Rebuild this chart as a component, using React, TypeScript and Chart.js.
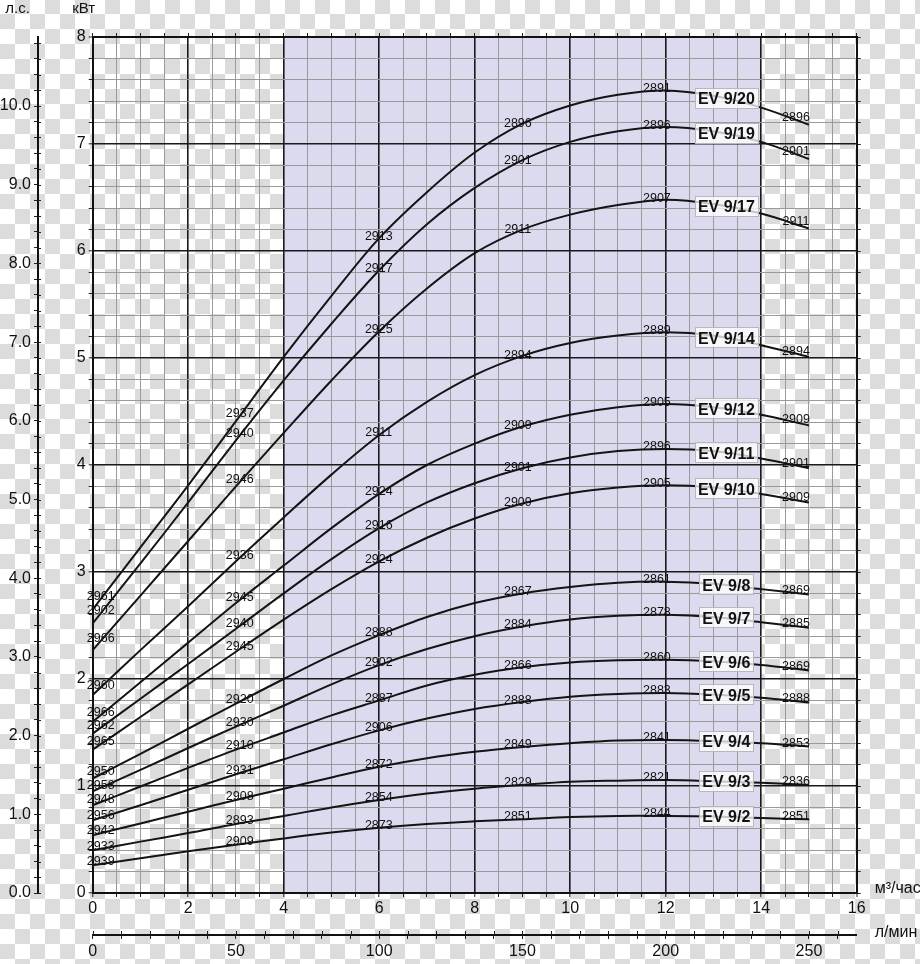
import React, { useEffect, useRef } from 'react';
import { Chart, registerables } from 'chart.js';

Chart.register(...registerables);

// ---------- data ----------
const flows = [0, 1, 2, 3, 4, 5, 6, 7, 8, 9, 10, 11, 12, 13, 14, 15]; // м³/час

const ev20 = [2.65, 3.23, 3.81, 4.41, 5.01, 5.58, 6.12, 6.55, 6.92, 7.19, 7.36, 7.46, 7.5, 7.45, 7.34, 7.18];
const ev19 = [2.52, 3.08, 3.65, 4.23, 4.79, 5.32, 5.82, 6.25, 6.59, 6.85, 7.02, 7.12, 7.16, 7.12, 7.02, 6.86];
const ev17 = [2.27, 2.78, 3.29, 3.8, 4.3, 4.79, 5.25, 5.65, 5.98, 6.2, 6.34, 6.43, 6.48, 6.44, 6.35, 6.21];
const ev14 = [1.85, 2.27, 2.68, 3.1, 3.51, 3.91, 4.28, 4.59, 4.84, 5.02, 5.14, 5.21, 5.24, 5.21, 5.12, 5.01];
const ev12 = [1.6, 1.97, 2.34, 2.71, 3.06, 3.41, 3.73, 4.0, 4.2, 4.36, 4.47, 4.54, 4.57, 4.54, 4.47, 4.37];
const ev11 = [1.49, 1.815, 2.14, 2.47, 2.8, 3.12, 3.41, 3.65, 3.83, 3.97, 4.07, 4.13, 4.15, 4.13, 4.06, 3.97];
const ev10 = [1.34, 1.645, 1.95, 2.255, 2.555, 2.84, 3.1, 3.32, 3.5, 3.64, 3.735, 3.79, 3.81, 3.79, 3.73, 3.65];
const ev8 = [1.07, 1.3, 1.535, 1.77, 2.0, 2.22, 2.41, 2.58, 2.71, 2.8, 2.86, 2.9, 2.91, 2.89, 2.84, 2.79];
const ev7 = [0.95, 1.15, 1.355, 1.555, 1.75, 1.95, 2.13, 2.28, 2.4, 2.49, 2.555, 2.59, 2.6, 2.58, 2.53, 2.48];
const ev6 = [0.82, 0.995, 1.17, 1.34, 1.5, 1.66, 1.8, 1.94, 2.04, 2.11, 2.155, 2.175, 2.18, 2.165, 2.13, 2.08];
const ev5 = [0.68, 0.82, 0.965, 1.11, 1.25, 1.39, 1.52, 1.63, 1.72, 1.785, 1.835, 1.86, 1.87, 1.855, 1.825, 1.78];
const ev4 = [0.54, 0.65, 0.76, 0.87, 0.975, 1.08, 1.18, 1.26, 1.32, 1.365, 1.4, 1.425, 1.43, 1.42, 1.4, 1.37];
const ev3 = [0.4, 0.48, 0.56, 0.645, 0.72, 0.8, 0.87, 0.93, 0.975, 1.01, 1.04, 1.05, 1.055, 1.045, 1.03, 1.01];
const ev2 = [0.26, 0.325, 0.39, 0.45, 0.51, 0.565, 0.61, 0.645, 0.67, 0.69, 0.71, 0.72, 0.72, 0.715, 0.7, 0.69];

const curveNames = ['EV 9/20', 'EV 9/19', 'EV 9/17', 'EV 9/14', 'EV 9/12', 'EV 9/11', 'EV 9/10', 'EV 9/8', 'EV 9/7', 'EV 9/6', 'EV 9/5', 'EV 9/4', 'EV 9/3', 'EV 9/2'];
const series = [ev20, ev19, ev17, ev14, ev12, ev11, ev10, ev8, ev7, ev6, ev5, ev4, ev3, ev2];

// rpm read at these flows
const rpmFlows = [0, 3, 6, 9, 12, 15];
const rpm20 = [2961, 2937, 2913, 2896, 2891, 2896];
const rpm19 = [2902, 2940, 2917, 2901, 2896, 2901];
const rpm17 = [2966, 2946, 2925, 2911, 2907, 2911];
const rpm14 = [2960, 2936, 2911, 2894, 2889, 2894];
const rpm12 = [2966, 2945, 2924, 2909, 2905, 2909];
const rpm11 = [2962, 2940, 2916, 2901, 2896, 2901];
const rpm10 = [2965, 2945, 2924, 2909, 2905, 2909];
const rpm8 = [2950, 2920, 2888, 2867, 2861, 2869];
const rpm7 = [2958, 2930, 2902, 2884, 2878, 2885];
const rpm6 = [2948, 2910, 2887, 2866, 2860, 2869];
const rpm5 = [2956, 2931, 2906, 2888, 2883, 2888];
const rpm4 = [2942, 2908, 2872, 2849, 2841, 2853];
const rpm3 = [2933, 2893, 2854, 2829, 2821, 2836];
const rpm2 = [2939, 2909, 2873, 2851, 2844, 2851];
const rpms = [rpm20, rpm19, rpm17, rpm14, rpm12, rpm11, rpm10, rpm8, rpm7, rpm6, rpm5, rpm4, rpm3, rpm2];

const shadedRange = [4, 14]; // м³/час
const flowMax = 16;
const kwMax = 8;
const KW_PER_HP = 0.7355;
const LPM_PER_M3H = 1000 / 60;
const evLabelFlow = 13.27;

const flowLabelStep = 2;
const lpmLabelStep = 50;

// ---------- helpers ----------
const FONT = "'Liberation Sans', Arial, Helvetica, sans-serif";
const isInt = (v: number) => Math.abs(v - Math.round(v)) < 1e-6;
const W = 920;
const H = 964;
const CHECK = 15;

function valueAt(vals: number[], f: number) {
  const n = flows.length;
  if (f <= flows[0]) return vals[0] + ((vals[1] - vals[0]) * (f - flows[0])) / (flows[1] - flows[0]);
  for (let i = 0; i < n - 1; i++) {
    if (f <= flows[i + 1]) {
      const t = (f - flows[i]) / (flows[i + 1] - flows[i]);
      return vals[i] + t * (vals[i + 1] - vals[i]);
    }
  }
  return vals[n - 1];
}

const shadePlugin = {
  id: 'shade',
  beforeDraw(chart: any) {
    const ctx = chart.ctx;
    const chartArea = chart.chartArea;
    const scales = chart.scales;
    ctx.save();
    ctx.globalAlpha = 1;
    ctx.globalCompositeOperation = 'source-over';
    ctx.fillStyle = 'rgb(255,255,255)';
    ctx.fillRect(0, 0, W, H);
    ctx.fillStyle = 'rgb(220,220,220)';
    ctx.beginPath();
    for (let j = 0; j <= Math.ceil(H / CHECK) + 1; j++) {
      for (let i = 0; i <= Math.ceil(W / CHECK); i++) {
        if ((i + j) % 2 === 1) ctx.rect(i * CHECK, j * CHECK - 1, CHECK, CHECK);
      }
    }
    ctx.fill();
    const x0 = scales.x.getPixelForValue(shadedRange[0]);
    const x1 = scales.x.getPixelForValue(shadedRange[1]);
    ctx.fillStyle = '#dcdaef';
    ctx.fillRect(x0, chartArea.top, x1 - x0, chartArea.bottom - chartArea.top);
    ctx.restore();
  },
};

const labelPlugin = {
  id: 'curveLabels',
  afterDatasetsDraw(chart: any) {
    const { ctx, scales } = chart;
    const x = scales.x;
    const y = scales.y;
    ctx.save();
    ctx.font = `12.5px ${FONT}`;
    ctx.fillStyle = '#111';
    ctx.textAlign = 'center';
    ctx.textBaseline = 'alphabetic';
    series.forEach((vals, si) => {
      rpmFlows.forEach((f, j) => {
        const px = x.getPixelForValue(f) + 8 - 1.4 * f;
        const fv = x.getValueForPixel(px);
        const py = y.getPixelForValue(valueAt(vals, fv));
        ctx.fillText(String(rpms[si][j]), px, py + 1);
      });
    });
    ctx.font = `bold 16px ${FONT}`;
    series.forEach((vals, si) => {
      const px = x.getPixelForValue(evLabelFlow);
      const py = y.getPixelForValue(valueAt(vals, evLabelFlow)) - 1;
      const w = Math.round(ctx.measureText(curveNames[si]).width + 6);
      const h = 20;
      const bx = Math.round(px - w / 2);
      const by = Math.round(py - h / 2);
      ctx.fillStyle = 'rgba(255,255,255,0.75)';
      ctx.fillRect(bx, by, w, h);
      ctx.strokeStyle = '#b8b8b8';
      ctx.lineWidth = 1;
      ctx.strokeRect(bx + 0.5, by + 0.5, w, h);
      ctx.fillStyle = '#111';
      ctx.textBaseline = 'middle';
      ctx.fillText(curveNames[si], px, py + 2);
    });
    ctx.restore();
  },
};

const decoPlugin = {
  id: 'deco',
  afterDraw(chart: any) {
    const { ctx, chartArea, scales } = chart;
    ctx.save();
    ctx.strokeStyle = '#222';
    ctx.lineWidth = 1;
    ctx.beginPath();
    const hp = scales.hp;
    hp.ticks.forEach((t: any) => {
      const py = Math.round(hp.getPixelForValue(t.value)) + 0.5;
      ctx.moveTo(hp.right, py);
      ctx.lineTo(hp.right + 3, py);
    });
    const lm = scales.lmin;
    lm.ticks.forEach((t: any) => {
      const px = Math.round(lm.getPixelForValue(t.value)) + 0.5;
      ctx.moveTo(px, lm.top - 4);
      ctx.lineTo(px, lm.top);
    });
    ctx.stroke();

    ctx.fillStyle = '#111';
    ctx.textBaseline = 'middle';
    ctx.textAlign = 'center';
    ctx.font = `15px ${FONT}`;
    ctx.fillText('л.с.', hp.right - 20.5, chartArea.top - 28);
    ctx.fillText('кВт', scales.y.right - 9, chartArea.top - 28);
    ctx.textAlign = 'left';
    ctx.font = `16px ${FONT}`;
    ctx.fillText('м³/час', chartArea.right + 18, scales.x.top - 4);
    ctx.fillText('л/мин', chartArea.right + 18, lm.top - 2);
    ctx.restore();
  },
};

export default function App() {
  const ref = useRef<HTMLCanvasElement | null>(null);

  useEffect(() => {
    if (!ref.current) return;
    const tickFont = { family: FONT, size: 16 };
    const gridColor = (major: boolean) => (major ? '#1a1a1a' : '#9a9a9a');

    const chart = new Chart(ref.current, {
      type: 'line',
      data: {
        datasets: series.map((vals, i) => ({
          label: curveNames[i],
          data: flows.map((f, k) => ({ x: f, y: vals[k] })),
          borderColor: '#141414',
          borderWidth: 2,
          pointRadius: 0,
          fill: false,
          tension: 0.35,
          xAxisID: 'x',
          yAxisID: 'y',
        })),
      },
      options: {
        responsive: false,
        animation: false,
        events: [],
        layout: { padding: { top: 33, right: 59.3, bottom: 0, left: 0 } },
        plugins: { legend: { display: false }, tooltip: { enabled: false } },
        scales: {
          x: {
            type: 'linear',
            axis: 'x',
            position: 'bottom',
            weight: 0,
            min: 0,
            max: flowMax,
            ticks: {
              stepSize: 0.5,
              autoSkip: false,
              maxTicksLimit: 1000,
              maxRotation: 0,
              minRotation: 0,
              padding: 2,
              font: tickFont,
              color: '#111',
              callback: (v: any) => (isInt(v / flowLabelStep) ? String(v) : ''),
            },
            grid: {
              color: (c: any) => gridColor(c.tick && isInt(c.tick.value / 2)),
              lineWidth: (c: any) => {
                const v = c.tick ? c.tick.value : 0;
                if (v >= flowMax - 1e-6) return 2;
                return isInt(v / 2) ? 1.6 : 1;
              },
              tickLength: 4,
              tickColor: '#222',
              tickWidth: 1,
            },
            border: { display: true, color: '#111', width: 2 },
            afterFit: (s: any) => {
              s.height = 42;
            },
          },
          lmin: {
            type: 'linear',
            axis: 'x',
            position: 'bottom',
            weight: 1,
            min: 0,
            max: flowMax * LPM_PER_M3H,
            ticks: {
              stepSize: 10,
              includeBounds: false,
              autoSkip: false,
              maxTicksLimit: 1000,
              maxRotation: 0,
              minRotation: 0,
              padding: 3,
              font: tickFont,
              color: '#111',
              callback: (v: any) => (isInt(v / lpmLabelStep) ? String(Math.round(v)) : ''),
            },
            grid: { drawOnChartArea: false, tickLength: 4, color: '#222', lineWidth: 1, tickWidth: 1 },
            border: { display: true, color: '#111', width: 2 },
            afterFit: (s: any) => {
              s.height = 29;
            },
          },
          xTop: {
            type: 'linear',
            axis: 'x',
            position: 'top',
            min: 0,
            max: flowMax,
            ticks: { stepSize: 0.5, display: false, maxTicksLimit: 1000, autoSkip: false },
            grid: { drawOnChartArea: false, tickLength: 4, color: '#222', lineWidth: 1, tickWidth: 1 },
            border: { display: true, color: '#111', width: 2 },
            afterFit: (s: any) => {
              s.height = 4;
            },
          },
          y: {
            type: 'linear',
            axis: 'y',
            position: 'left',
            weight: 0,
            min: 0,
            max: kwMax,
            ticks: {
              stepSize: 0.2,
              autoSkip: false,
              maxTicksLimit: 1000,
              padding: 3,
              font: tickFont,
              color: '#111',
              callback: (v: any) => (isInt(v) ? String(Math.round(v)) : ''),
            },
            grid: {
              color: (c: any) => gridColor(c.tick && isInt(c.tick.value)),
              lineWidth: (c: any) => {
                const v = c.tick ? c.tick.value : 0;
                if (v >= kwMax - 1e-6) return 2;
                return isInt(v) ? 1.6 : 1;
              },
              tickLength: 4,
              tickColor: '#222',
              tickWidth: 1,
            },
            border: { display: true, color: '#111', width: 2 },
            afterFit: (s: any) => {
              s.width = 54.7;
            },
          },
          hp: {
            type: 'linear',
            axis: 'y',
            position: 'left',
            weight: 1,
            min: 0,
            max: kwMax / KW_PER_HP,
            ticks: {
              stepSize: 0.2,
              includeBounds: false,
              autoSkip: false,
              maxTicksLimit: 1000,
              padding: 3,
              font: tickFont,
              color: '#111',
              callback: (v: any) => (isInt(v) ? Number(v).toFixed(1) : ''),
            },
            grid: { drawOnChartArea: false, tickLength: 4, color: '#222', lineWidth: 1, tickWidth: 1 },
            border: { display: true, color: '#111', width: 2 },
            afterFit: (s: any) => {
              s.width = 38;
            },
          },
          yRight: {
            type: 'linear',
            axis: 'y',
            position: 'right',
            min: 0,
            max: kwMax,
            ticks: { stepSize: 0.2, display: false, maxTicksLimit: 1000, autoSkip: false },
            grid: { drawOnChartArea: false, tickLength: 4, color: '#222', lineWidth: 1, tickWidth: 1 },
            border: { display: true, color: '#111', width: 2 },
            afterFit: (s: any) => {
              s.width = 4;
            },
          },
        },
      } as any,
      plugins: [shadePlugin, labelPlugin, decoPlugin],
    });
    return () => chart.destroy();
  }, []);

  return (
    <div style={{ position: 'fixed', left: 0, top: 0, width: W, height: H, background: '#ffffff' }}>
      <canvas ref={ref} width={W} height={H} style={{ display: 'block' }} />
    </div>
  );
}
